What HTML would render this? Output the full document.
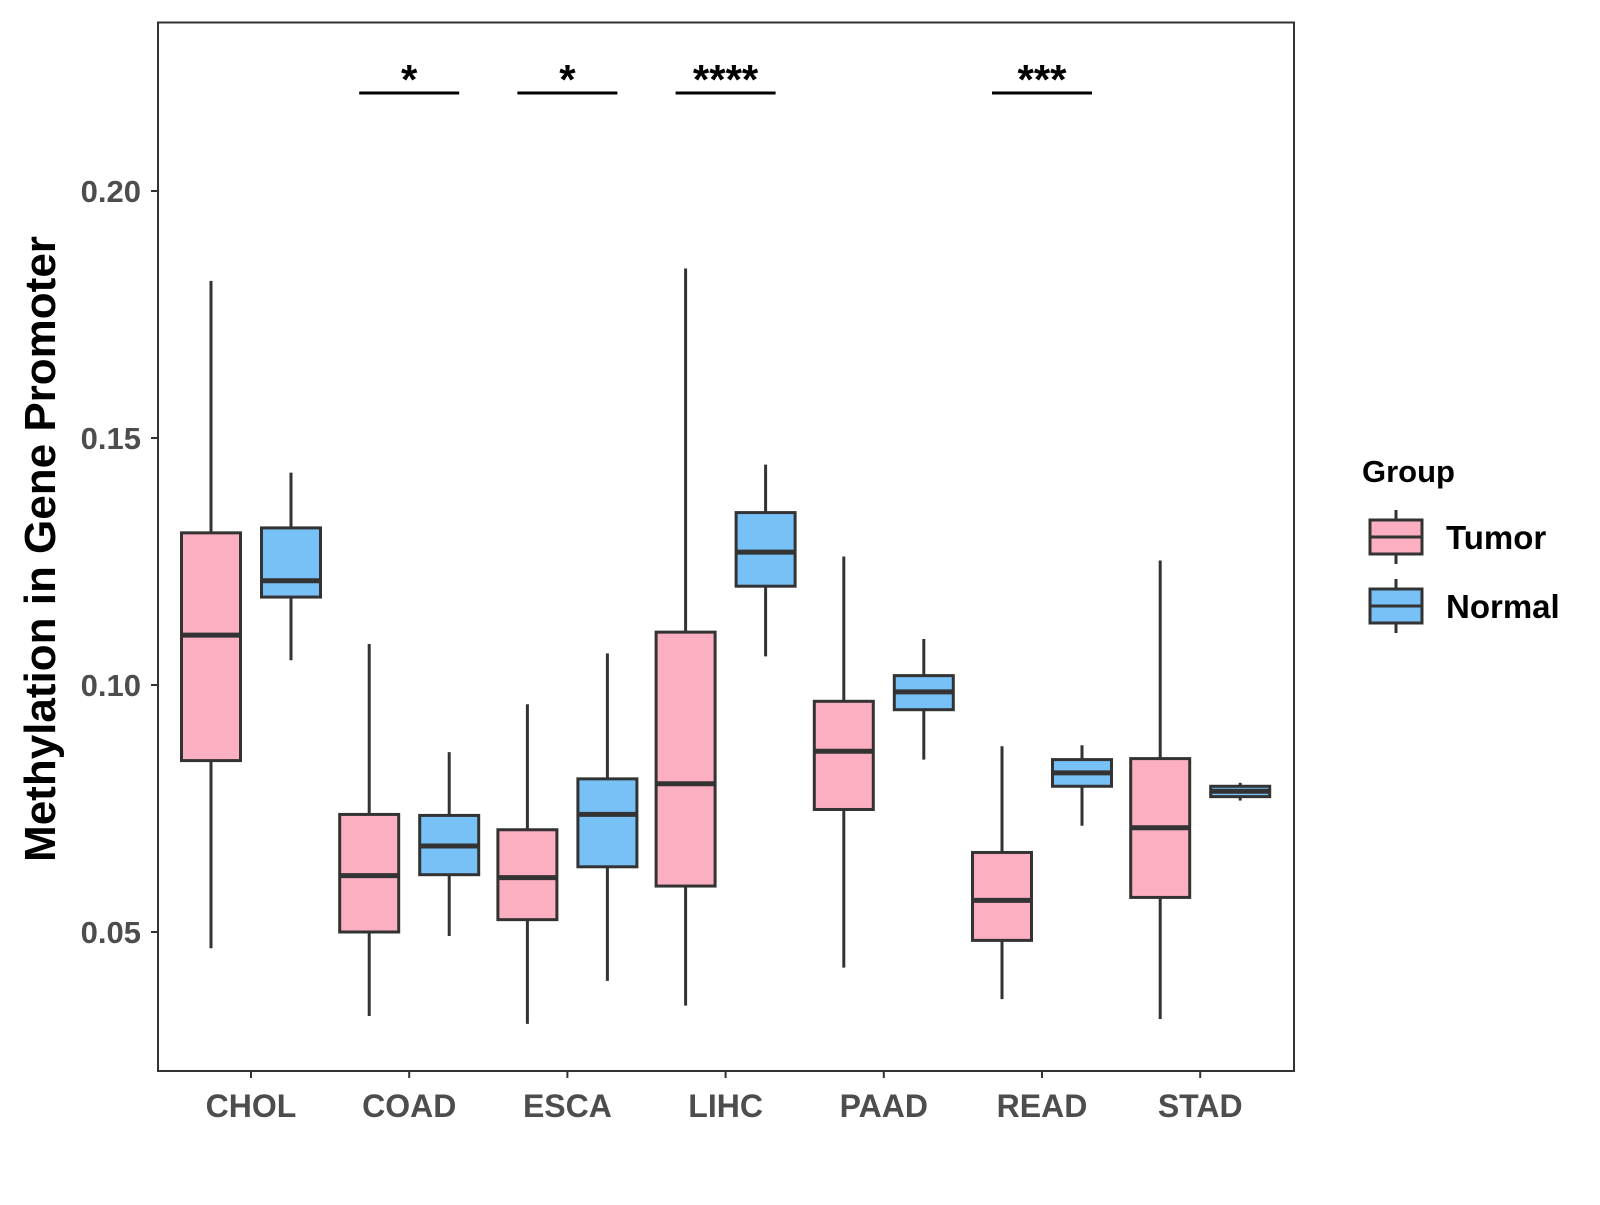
<!DOCTYPE html>
<html><head><meta charset="utf-8"><style>
body{margin:0;background:#fff;font-family:"Liberation Sans",Arial,sans-serif}
text{font-family:"Liberation Sans",Arial,sans-serif;font-weight:bold}
</style></head><body>
<svg id="chart" width="1600" height="1200" xmlns="http://www.w3.org/2000/svg">
<rect x="0" y="0" width="1600" height="1200" fill="#fff"/>
<g id="plot"></g>
<rect x="158" y="22.5" width="1136" height="1048.5" fill="none" stroke="#333" stroke-width="2"/>
<text transform="translate(55,549) rotate(-90)" text-anchor="middle" font-size="44" fill="#000">Methylation in Gene Promoter</text>
<text x="1362" y="482" font-size="31" fill="#000">Group</text>
<g>
<line x1="1396" y1="510" x2="1396" y2="564" stroke="#333" stroke-width="3"/>
<rect x="1370" y="520" width="52" height="34" fill="#fbafc1" stroke="#333" stroke-width="3"/>
<line x1="1370" y1="537" x2="1422" y2="537" stroke="#333" stroke-width="3"/>
<text x="1446" y="549" font-size="33" fill="#000">Tumor</text></g>
<g>
<line x1="1396" y1="579" x2="1396" y2="633" stroke="#333" stroke-width="3"/>
<rect x="1370" y="589" width="52" height="34" fill="#78c1f7" stroke="#333" stroke-width="3"/>
<line x1="1370" y1="606" x2="1422" y2="606" stroke="#333" stroke-width="3"/>
<text x="1446" y="618" font-size="33" fill="#000">Normal</text></g>
</svg>
<script>
const categories=["CHOL","COAD","ESCA","LIHC","PAAD","READ","STAD"];
const tumorLow=[0.0467,0.033,0.0314,0.0351,0.0428,0.0364,0.0324];
const tumorQ1=[0.0847,0.050,0.0525,0.0593,0.0748,0.0483,0.057];
const tumorMed=[0.1101,0.0614,0.061,0.0800,0.0866,0.0564,0.0711];
const tumorQ3=[0.1308,0.0738,0.0707,0.1107,0.0967,0.0661,0.0851];
const tumorHigh=[0.1818,0.1083,0.0961,0.1843,0.126,0.0876,0.1252];
const normalLow=[0.105,0.0492,0.0401,0.1058,0.0849,0.0715,0.0766];
const normalQ1=[0.1178,0.0616,0.0632,0.12,0.095,0.0795,0.0774];
const normalMed=[0.1211,0.0674,0.0738,0.1269,0.0986,0.0822,0.0785];
const normalQ3=[0.1318,0.0736,0.081,0.1349,0.1019,0.0849,0.0795];
const normalHigh=[0.143,0.0864,0.1064,0.1446,0.1093,0.0878,0.0802];
const yTicks=[0.05,0.10,0.15,0.20];
const yTickLabels=["0.05","0.10","0.15","0.20"];
const sigCats=["COAD","ESCA","LIHC","READ"];
const sigLabels=["*","*","****","***"];
const NS="http://www.w3.org/2000/svg";
const g=document.getElementById('plot');
const y=v=>191+(0.20-v)*(741/0.15);
const x=i=>251+i*158.2;
function el(t,a,p){const e=document.createElementNS(NS,t);for(const k in a)e.setAttribute(k,a[k]);(p||g).appendChild(e);return e;}
yTicks.forEach((v,i)=>{
const t=el('line',{x1:151,x2:158,y1:y(v),y2:y(v),stroke:'#333','stroke-width':2});


const l=el('text',{x:141,y:y(v)+11,'text-anchor':'end','font-size':31,fill:'#4d4d4d'});l.textContent=yTickLabels[i];


});
categories.forEach((c,i)=>{
const t=el('line',{x1:x(i),x2:x(i),y1:1071,y2:1078,stroke:'#333','stroke-width':2});


const l=el('text',{x:x(i),y:1117,'text-anchor':'middle','font-size':32,fill:'#4d4d4d'});l.textContent=c;


});
function box(cx,lo,q1,md,q3,hi,fill,name){
const b=el('g',{});


el('line',{x1:cx,x2:cx,y1:y(hi),y2:y(lo),stroke:'#333','stroke-width':3},b);
el('rect',{x:cx-29.5,y:y(q3),width:59,height:Math.max(y(q1)-y(q3),1),fill:fill,stroke:'#333','stroke-width':3},b);
el('line',{x1:cx-29.5,x2:cx+29.5,y1:y(md),y2:y(md),stroke:'#333','stroke-width':5},b);
}
categories.forEach((c,i)=>{
box(x(i)-40,tumorLow[i],tumorQ1[i],tumorMed[i],tumorQ3[i],tumorHigh[i],'#fbafc1','box-tumor-'+c.toLowerCase());
box(x(i)+40,normalLow[i],normalQ1[i],normalMed[i],normalQ3[i],normalHigh[i],'#78c1f7','box-normal-'+c.toLowerCase());
});
sigCats.forEach((c,k)=>{
const i=categories.indexOf(c);
const ln=el('line',{x1:x(i)-50,x2:x(i)+50,y1:93,y2:93,stroke:'#000','stroke-width':3});


const t=el('text',{x:x(i),y:94,'text-anchor':'middle','font-size':42,fill:'#000'});t.textContent=sigLabels[k];


});
</script>
</body></html>
